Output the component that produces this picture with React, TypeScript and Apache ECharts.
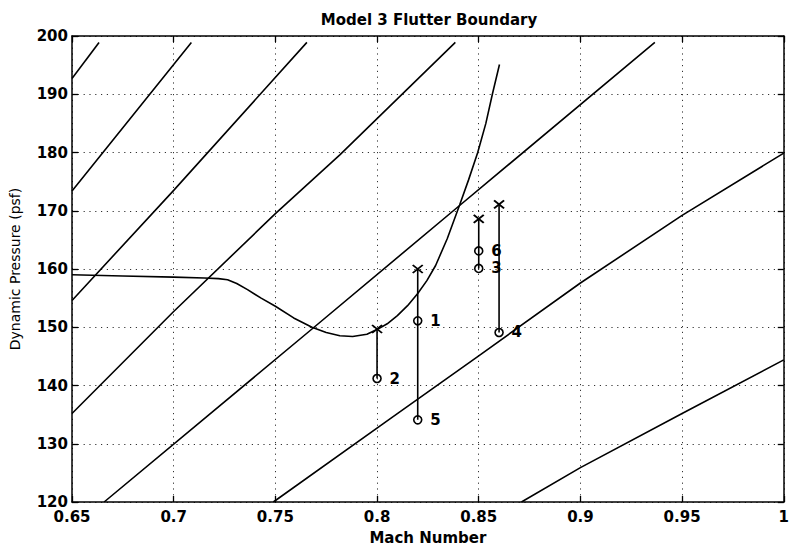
import React, { useEffect, useRef } from "react";
import * as echarts from "echarts";

// Axis ticks
const machTicks = [0.65, 0.7, 0.75, 0.8, 0.85, 0.9, 0.95, 1.0];
const pressureTicks = [120, 130, 140, 150, 160, 170, 180, 190, 200];

// Straight reference lines (Mach, dynamic pressure psf)
const refLine1: [number, number][] = [[0.65, 192.7], [0.6633, 198.9]];
const refLine2: [number, number][] = [[0.65, 173.4], [0.7, 195.1], [0.7087, 198.9]];
const refLine3: [number, number][] = [[0.65, 154.6], [0.7, 173.5], [0.7655, 198.9]];
const refLine4: [number, number][] = [[0.65, 135.2], [0.7, 152.7], [0.75, 169.5], [0.7817, 179.6], [0.8385, 198.9]];
const refLine5: [number, number][] = [[0.6658, 120], [0.768, 149.7], [0.8406, 170.9], [0.9366, 198.9]];
const refLine6: [number, number][] = [[0.749, 120], [0.806, 134.2], [0.85, 145.1], [0.9, 157.6], [0.95, 169.2], [1.0, 179.9]];
const refLine7: [number, number][] = [[0.871, 120], [0.9, 125.9], [0.95, 135.2], [1.0, 144.4]];
const refLines = [refLine1, refLine2, refLine3, refLine4, refLine5, refLine6, refLine7];

// Flutter boundary curve
const boundaryMach = [0.65, 0.675, 0.7, 0.715, 0.722, 0.7265, 0.731, 0.7363, 0.743, 0.75, 0.759, 0.768, 0.775, 0.7817, 0.788, 0.795, 0.8, 0.805, 0.81, 0.815, 0.82, 0.8245, 0.8288, 0.8345, 0.8406, 0.845, 0.8495, 0.8535, 0.8567, 0.8602];
const boundaryQ = [159.0, 158.8, 158.6, 158.45, 158.35, 158.15, 157.5, 156.45, 155.0, 153.6, 151.6, 150.0, 149.1, 148.55, 148.4, 148.8, 149.6, 150.6, 152.0, 153.7, 155.8, 158.0, 160.6, 165.2, 171.0, 175.3, 180.0, 185.0, 190.0, 195.1];

// Predicted flutter points (x markers)
const predictedMach = [0.8, 0.82, 0.85, 0.86];
const predictedQ = [149.7, 160.0, 168.6, 171.1];

// Test points (circles), numbered
const testLabels = ["1", "2", "3", "4", "5", "6"];
const testMach = [0.82, 0.8, 0.85, 0.86, 0.82, 0.85];
const testQ = [151.1, 141.2, 160.1, 149.1, 134.1, 163.1];

const FONT = "DejaVu Sans";

export default function App() {
  const ref = useRef<HTMLDivElement>(null);

  useEffect(() => {
    if (!ref.current) return;
    const chart = echarts.init(ref.current, undefined, { renderer: "svg" });

    const lineStyle = { color: "#000", width: 1.6 };

    const refSeries = refLines.map((pts, i) => ({
      name: "ref" + (i + 1),
      type: "line",
      data: pts,
      showSymbol: false,
      symbol: "none",
      lineStyle,
      silent: true,
      z: 3,
    }));

    const connectorSeries = predictedMach.map((m, i) => {
      const lows = testMach
        .map((tm, j) => (Math.abs(tm - m) < 1e-6 ? testQ[j] : Infinity))
        .filter((v) => isFinite(v));
      const low = Math.min(...lows);
      return {
        name: "conn" + i,
        type: "line",
        data: [
          [m, predictedQ[i]],
          [m, low],
        ],
        symbol: "none",
        lineStyle,
        silent: true,
        z: 3,
      };
    });

    const xCommon = {
      type: "value",
      min: 0.65,
      max: 1.0,
      interval: 0.05,
    };
    const yCommon = {
      type: "value",
      min: 120,
      max: 200,
      interval: 10,
    };
    const axisLine = { show: true, onZero: false, lineStyle: { color: "#000", width: 1.5 } };
    const axisTick = { show: true, inside: true, length: 6, lineStyle: { color: "#000", width: 1.3 } };
    const splitLine = { show: true, lineStyle: { color: "#333", width: 1, type: [1.2, 4.6] } };

    const option: any = {
      animation: false,
      backgroundColor: "#fff",
      title: {
        text: "Model 3 Flutter Boundary",
        left: 424,
        top: 7,
        textAlign: "center",
        textStyle: { fontFamily: FONT, fontSize: 15, fontWeight: "bold", color: "#000" },
      },
      grid: { left: 69, right: 4, top: 36, bottom: 42, containLabel: false },
      xAxis: [
        {
          ...xCommon,
          position: "bottom",
          name: "Mach Number",
          nameLocation: "middle",
          nameGap: 28,
          nameTextStyle: { fontFamily: FONT, fontSize: 15, fontWeight: "bold", color: "#000" },
          axisLine,
          axisTick,
          splitLine,
          axisLabel: {
            fontFamily: FONT,
            fontSize: 15,
            fontWeight: "bold",
            color: "#000",
            margin: 7,
            formatter: (v: number) => {
              const t = machTicks.find((k) => Math.abs(k - v) < 1e-6);
              return t === undefined ? "" : String(+t.toFixed(2));
            },
          },
        },
        {
          ...xCommon,
          position: "top",
          axisLine,
          axisTick,
          splitLine: { show: false },
          axisLabel: { show: false },
        },
      ],
      yAxis: [
        {
          ...yCommon,
          position: "left",
          name: "Dynamic Pressure (psf)",
          nameLocation: "middle",
          nameGap: 50,
          nameTextStyle: { fontFamily: FONT, fontSize: 14, color: "#000" },
          axisLine,
          axisTick,
          splitLine,
          axisLabel: {
            fontFamily: FONT,
            fontSize: 15,
            fontWeight: "bold",
            color: "#000",
            margin: 4,
            formatter: (v: number) => {
              const t = pressureTicks.find((k) => Math.abs(k - v) < 1e-6);
              return t === undefined ? "" : String(t);
            },
          },
        },
        {
          ...yCommon,
          position: "right",
          axisLine,
          axisTick,
          splitLine: { show: false },
          axisLabel: { show: false },
        },
      ],
      series: [
        ...refSeries,
        {
          name: "Flutter boundary",
          type: "line",
          data: boundaryMach.map((m, i) => [m, boundaryQ[i]]),
          symbol: "none",
          smooth: false,
          lineStyle,
          silent: true,
          z: 3,
        },
        ...connectorSeries,
        {
          name: "Predicted",
          type: "scatter",
          data: predictedMach.map((m, i) => [m, predictedQ[i]]),
          symbol: "path://M0,0L10,10M10,0L0,10",
          symbolSize: [10, 8],
          itemStyle: { color: "none", borderColor: "#000", borderWidth: 1.8, opacity: 1 },
          silent: true,
          z: 5,
        },
        {
          name: "Test",
          type: "scatter",
          data: testMach.map((m, i) => ({ value: [m, testQ[i]], name: testLabels[i] })),
          symbol: "circle",
          symbolSize: 8,
          itemStyle: { color: "none", borderColor: "#000", borderWidth: 1.6, opacity: 1 },
          label: {
            show: true,
            position: "right",
            distance: 6,
            formatter: (p: any) => p.name,
            fontFamily: FONT,
            fontSize: 15,
            fontWeight: "bold",
            color: "#000",
            opacity: 1,
          },
          silent: true,
          z: 5,
        },
      ],
    };

    chart.setOption(option);
    return () => chart.dispose();
  }, []);

  return (
    <div
      ref={ref}
      style={{ position: "fixed", left: 0, top: 0, width: 792, height: 550, background: "#fff" }}
    />
  );
}
